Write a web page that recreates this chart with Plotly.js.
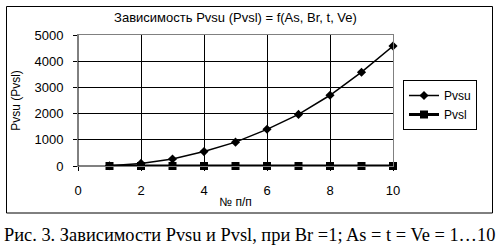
<!DOCTYPE html>
<html>
<head>
<meta charset="utf-8">
<script src="https://cdn.plot.ly/plotly-3.0.1.min.js"></script>
<style>html,body{margin:0;padding:0;background:#fff;}#chart{width:499px;height:250px;}</style>
</head>
<body>
<div id="chart"></div>
<script>
var nums = [1, 2, 3, 4, 5, 6, 7, 8, 9, 10];
var pvsu = [10, 100, 270, 550, 910, 1400, 1970, 2700, 3580, 4580];
var pvsl = [0, 0, 0, 0, 0, 0, 0, 0, 0, 0];
var seriesNames = ['Pvsu', 'Pvsl'];
var chartTitle = 'Зависимость Pvsu (Pvsl) = f(As, Br, t, Ve)';
var xTitle = '№ п/п';
var yTitle = 'Pvsu (Pvsl)';
var caption = 'Рис. 3. Зависимости Pvsu и Pvsl, при Br =1; As = t = Ve = 1…10';

var L = 78, R = 393, T = 35, B = 166;
function px(x){ return (x - L) / (R - L); }
function py(y){ return (B - y) / (B - T); }

var traces = [
  {x: nums, y: pvsu, name: seriesNames[0], type: 'scatter', mode: 'lines+markers',
   line: {color: '#000', width: 1.5}, marker: {symbol: 'diamond', size: 7, color: '#000'}, cliponaxis: false},
  {x: nums, y: pvsl, name: seriesNames[1], type: 'scatter', mode: 'lines+markers',
   line: {color: '#000', width: 3}, marker: {symbol: 'square', size: 8, color: '#000'}, cliponaxis: false}
];

var font = {family: '"Liberation Sans", Arial, sans-serif', size: 12, color: '#000'};

var layout = {
  width: 499, height: 250,
  margin: {l: L, r: 499 - R, t: T, b: 250 - B, pad: 0},
  paper_bgcolor: '#fff', plot_bgcolor: '#fff',
  font: font,
  showlegend: true,
  title: {text: chartTitle, font: {family: font.family, size: 13, color: '#000'},
          x: 0.5, xref: 'paper', xanchor: 'center', y: 1 - 17/250, yanchor: 'middle'},
  xaxis: {range: [0, 10], dtick: 2, tick0: 0, showgrid: true, gridcolor: '#000', gridwidth: 1,
          zeroline: false, showline: true, linecolor: '#808080', linewidth: 1, mirror: true,
          ticks: 'outside', ticklen: 4, tickcolor: '#000', ticklabelstandoff: 8,
          tickfont: {family: font.family, size: 13, color: '#000'},
          title: {text: xTitle, font: {family: font.family, size: 12, color: '#000'}, standoff: 1}},
  yaxis: {range: [0, 5000], dtick: 1000, showgrid: true, gridcolor: '#000', gridwidth: 1,
          zeroline: false, showline: true, linecolor: '#808080', linewidth: 1, mirror: true,
          ticks: 'outside', ticklen: 4, tickcolor: '#000', ticklabelstandoff: 7,
          tickfont: {family: font.family, size: 13, color: '#000'},
          title: {text: yTitle, font: {family: font.family, size: 12, color: '#000'}, standoff: 11}},
  legend: {x: px(403), y: py(80), xanchor: 'left', yanchor: 'top', bordercolor: '#000', borderwidth: 1,
           bgcolor: '#fff', font: {family: font.family, size: 12, color: '#000'}, tracegroupgap: 0},
  shapes: [
    {type: 'line', xref: 'paper', yref: 'paper', x0: 0, x1: 0, y0: 0, y1: 1, line: {color: '#000', width: 1}, layer: 'between'},
    {type: 'line', xref: 'paper', yref: 'paper', x0: 0, x1: 1, y0: 0, y1: 0, line: {color: '#000', width: 1}, layer: 'between'},
    {type: 'rect', xref: 'paper', yref: 'paper', x0: px(6.5), x1: px(492.5), y0: py(213), y1: py(6.5),
     line: {color: '#000', width: 1}, fillcolor: 'rgba(0,0,0,0)', layer: 'below'}
  ],
  annotations: [
    {text: caption, xref: 'paper', yref: 'paper', x: px(250), y: py(235), xanchor: 'center', yanchor: 'middle',
     showarrow: false, font: {family: '"Liberation Serif", "Times New Roman", serif', size: 18.4, color: '#000'}}
  ]
};

Plotly.newPlot('chart', traces, layout, {displayModeBar: false, staticPlot: true});
</script>
</body>
</html>
